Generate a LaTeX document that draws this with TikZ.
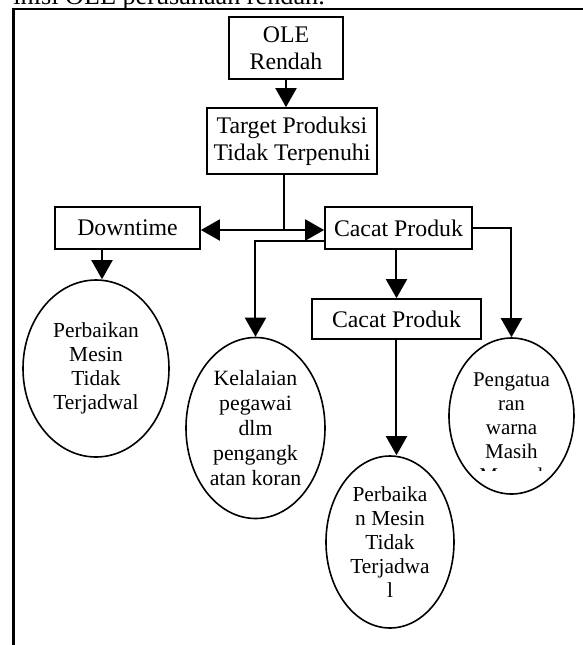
\documentclass[tikz,border=0pt]{standalone}
\usepackage{fontspec}
\setmainfont{Liberation Serif}
\usetikzlibrary{shapes.geometric,arrows.meta}
\begin{document}
\begin{tikzpicture}[x=0.5pt, y=-0.5pt,
			box/.style = {draw, line width=0.85pt, inner sep=0pt, align=center, font=\fontsize{11.9}{13.3}\selectfont},
			oval/.style = {draw, ellipse, line width=0.8pt, inner sep=0pt, align=center, font=\fontsize{10.7}{12}\selectfont},
			arr/.style = {line width=1pt, -{Triangle[length=9.5pt,width=10.5pt]}}]
			
			\useasboundingbox (0,0) rectangle (583,645);
			\clip (0,0) rectangle (583,645);
			
			\node[anchor=base west, inner sep=0pt, font=\fontsize{13.1}{15}\selectfont] (lead) at (13,4.5) {inisi OLE perusahaan rendah.};
			\draw[line width=1.2pt] (13.5,700) -- (13.5,9) -- (700,9);
			
			\node[box, minimum width=57pt, minimum height=31pt] (ole) at (286,48) {OLE\\Rendah};
			\node[box, minimum width=85pt, minimum height=33pt] (target) at (292,141) {Target Produksi\\Tidak Terpenuhi};
			\node[box, minimum width=72.5pt, minimum height=21pt] (down) at (127.5,228) {Downtime};
			\node[box, minimum width=73.5pt, minimum height=21pt] (cacat1) at (398.5,228) {Cacat Produk};
			\node[box, minimum width=84.5pt, minimum height=20pt] (cacat2) at (396.5,319) {Cacat Produk};
			
			\node[oval, minimum width=73pt, minimum height=88.5pt] (mesin1) at (96,368.5) {Perbaikan\\Mesin\\Tidak\\Terjadwal};
			\node[oval, minimum width=69.5pt, minimum height=90.5pt, font=\fontsize{10.9}{12.4}\selectfont] (lalai) at (255.5,428) {Kelalaian\\pegawai\\dlm\\pengangk\\atan koran};
			\node[oval, minimum width=64pt, minimum height=86pt] (mesin2) at (390,542) {Perbaika\\n Mesin\\Tidak\\Terjadwa\\l};
			\node[oval, minimum width=62.5pt, minimum height=78pt] (warna) at (511.5,416) {};
			\begin{scope}
				\clip (440,330) rectangle (583,470);
				\node[anchor=north, inner sep=0pt, align=center, font=\fontsize{10.5}{12}\selectfont] (warnatext) at (511.5,372) {Pengatua\\ran\\warna\\Masih\\Manual};
			\end{scope}
			
			\coordinate (split) at (284,230);
			\coordinate (dtip) at ([xshift=3pt]mesin1.north);
			
			\draw[arr] (ole.south) -- (ole.south |- target.north);
			\draw[line width=1pt] (target.south -| split) -- (split);
			\draw[arr] (split) -- (down.east |- split);
			\draw[arr] (split) -- (cacat1.west |- split);
			\draw[arr] (dtip |- down.south) -- (dtip);
			\draw[arr] ([yshift=-6.5pt]cacat1.west) -| (lalai.north);
			\draw[arr] (cacat1.east) -| (warna.north);
			\draw[arr] (cacat1.south -| cacat2.north) -- (cacat2.north);
			\draw[arr] (cacat2.south) -- (cacat2.south |- mesin2.north);
			
		\end{tikzpicture}
\end{document}
